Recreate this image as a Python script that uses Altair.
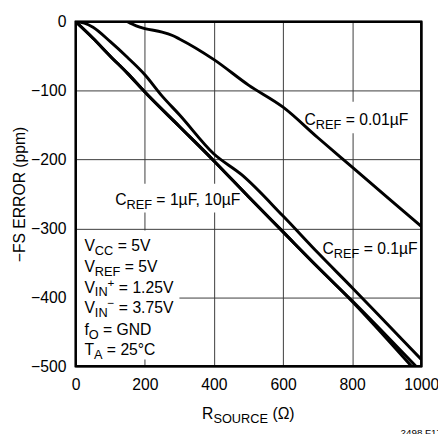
import altair as alt
import pandas as pd

# ---- data ----
x_c001 = [150, 175, 200, 250, 280, 300, 400, 500, 600, 700, 800, 900, 1000]
y_c001 = [0, -6, -10, -15, -20, -25, -55, -92, -124, -168, -211, -254, -297]

x_c01 = [0, 25, 50, 100, 150, 200, 250, 300, 400, 480, 600, 700, 800, 900, 1000]
y_c01 = [0, -2, -8, -29, -52, -77, -108, -135, -192, -222, -282, -335, -386, -438, -490]

x_c1 = [0, 50, 100, 150, 200, 300, 400, 500, 600, 700, 800, 900, 1000]
y_c1 = [0, -24, -50, -75, -102, -152, -202, -254, -305, -356, -406, -460, -516]
y_c10 = [0, -24, -50, -75, -102, -152, -202, -254, -305, -356, -405, -456, -508]

x_ticks = [0, 200, 400, 600, 800, 1000]
y_ticks = [0, -100, -200, -300, -400, -500]

# ---- layout ----
W_PLOT, H_PLOT = 352, 351
FONT = "Liberation Sans"
PX_X = 1000 / W_PLOT
PX_Y = 500 / H_PLOT

rows = []
for xs_, ys_, name in [(x_c001, y_c001, "0.01µF"), (x_c01, y_c01, "0.1µF"),
                       (x_c1, y_c1, "1µF"), (x_c1, y_c10, "10µF")]:
    for a, b in zip(xs_, ys_):
        rows.append({"x": a, "y": b, "s": name})
curves = pd.DataFrame(rows)

# Liberation Sans (Arial metric) advance widths per 1000 em
AW = {" ": 278, "=": 584, ".": 278, ",": 278, "µ": 576, "F": 611, "V": 667,
      "C": 722, "R": 722, "E": 667, "I": 278, "N": 722, "T": 611, "A": 667, "O": 778,
      "G": 778, "D": 722, "f": 278, "°": 400, "S": 667, "U": 722, "(": 333, ")": 333,
      "Ω": 768, "+": 584, "−": 584}


def tw(s, size):
    return sum(AW.get(c, 556) for c in s) * size / 1000


KIND = {"m": (16, 0), "s": (13, 4), "p": (12, -6), "t": (10, 0)}

annotations = [
    (662, -150, "left", [("C", "m"), ("REF", "s"), (" = 0.01µF", "m")]),
    (714, -337, "left", [("C", "m"), ("REF", "s"), (" = 0.1µF", "m")]),
    (114, -266, "left", [("C", "m"), ("REF", "s"), (" = 1µF, 10µF", "m")]),
    (25, -333, "left", [("V", "m"), ("CC", "s"), (" = 5V", "m")]),
    (25, -363, "left", [("V", "m"), ("REF", "s"), (" = 5V", "m")]),
    (25, -393, "left", [("V", "m"), ("IN", "s"), ("+", "p"), (" = 1.25V", "m")]),
    (25, -423, "left", [("V", "m"), ("IN", "s"), ("−", "p"), (" = 3.75V", "m")]),
    (25, -454, "left", [("f", "m"), ("O", "s"), (" = GND", "m")]),
    (25, -484, "left", [("T", "m"), ("A", "s"), (" = 25°C", "m")]),
    (500, -577, "center", [("R", "m"), ("SOURCE", "s"), (" (Ω)", "m")]),
    (940, -601, "left", [("2498 F17", "t")]),
]

trows = []
for ax, ay, align, segs in annotations:
    total = sum(tw(t, KIND[k][0]) for t, k in segs)
    off = -total / 2 if align == "center" else 0
    for t, k in segs:
        size, dy = KIND[k]
        lead = len(t) - len(t.lstrip(" "))
        off += tw(" " * lead, size)          # leading spaces become an offset
        body = t.lstrip(" ")
        trows.append({"x": ax + off * PX_X, "y": ay - dy * PX_Y, "t": body, "size": size})
        off += tw(body, size)
texts = pd.DataFrame(trows)

boxes = pd.DataFrame({"x": [0, 93, 647], "x2": [300, 477, 969],
                      "y": [-303, -235, -116], "y2": [-490, -277, -162]})

xs = alt.Scale(domain=[0, 1000], nice=False)
ys = alt.Scale(domain=[-500, 0], nice=False)

x_axis = alt.Axis(values=x_ticks, format="d", title=None, grid=True, gridColor="#3a3a3a",
                  gridWidth=1, domain=False, ticks=False, labelFont=FONT, labelFontSize=16,
                  labelColor="black", labelPadding=11, labelFlush=False)
y_axis = alt.Axis(values=y_ticks, format="d", title="−FS ERROR (ppm)", grid=True,
                  gridColor="#3a3a3a", gridWidth=1, domain=False, ticks=False,
                  labelFont=FONT, labelFontSize=16, labelColor="black", labelPadding=10,
                  labelFlush=False, titleFont=FONT, titleFontSize=16,
                  titleFontWeight="normal", titleColor="black", titleAngle=-90,
                  titleX=-52, titleY=175.5, titleAlign="center",
                  titleBaseline="alphabetic")

grid_layer = alt.Chart(boxes).mark_rect(fill="white", strokeWidth=0).encode(
    x=alt.X("x:Q", scale=xs, axis=x_axis),
    x2="x2:Q",
    y=alt.Y("y:Q", scale=ys, axis=y_axis),
    y2="y2:Q",
)

lines = alt.Chart(curves).mark_line(strokeWidth=3, clip=True, interpolate="monotone").encode(
    x=alt.X("x:Q", scale=xs),
    y=alt.Y("y:Q", scale=ys),
    detail="s:N",
    color=alt.value("black"),
)

text_layer = alt.Chart(texts).mark_text(align="left", baseline="alphabetic", font=FONT,
                                        color="black").encode(
    x=alt.X("x:Q", scale=xs),
    y=alt.Y("y:Q", scale=ys),
    text="t:N",
    size=alt.Size("size:Q", scale=None, legend=None),
)

frame = alt.Chart(boxes).mark_rect(fillOpacity=0, stroke="black", strokeWidth=2).encode(
    x=alt.value(0), x2=alt.value(W_PLOT), y=alt.value(0), y2=alt.value(H_PLOT)
)

chart = alt.layer(grid_layer, lines, text_layer, frame).properties(
    width=W_PLOT, height=H_PLOT,
    autosize=alt.AutoSizeParams(type="none"),
    padding={"left": 69, "top": 10, "right": 17, "bottom": 65},
    background="white",
).configure_view(stroke=None)

chart.save("out.html", embed_options={"renderer": "svg", "actions": False})
